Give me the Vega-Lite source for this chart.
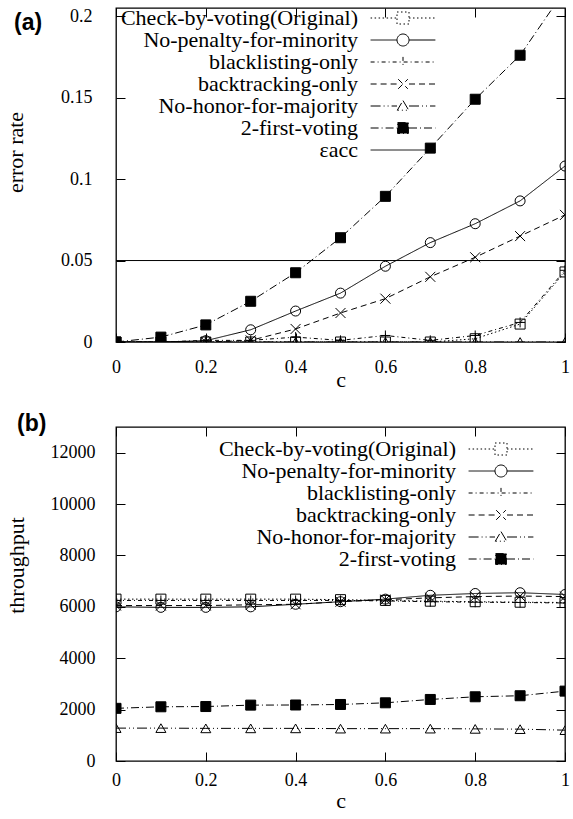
{
  "$schema": "https://vega.github.io/schema/vega-lite/v6.json",
  "background": "white",
  "padding": {"left": 3, "top": 6, "right": 5, "bottom": 4},
  "datasets": {
    "err": [
      {"s": "Check-by-voting(Original)", "c": 0, "v": 0}, {"s": "Check-by-voting(Original)", "c": 0.1, "v": 0}, {"s": "Check-by-voting(Original)", "c": 0.2, "v": 0}, {"s": "Check-by-voting(Original)", "c": 0.3, "v": 0}, {"s": "Check-by-voting(Original)", "c": 0.4, "v": 0}, {"s": "Check-by-voting(Original)", "c": 0.5, "v": 0}, {"s": "Check-by-voting(Original)", "c": 0.6, "v": 0}, {"s": "Check-by-voting(Original)", "c": 0.7, "v": 0}, {"s": "Check-by-voting(Original)", "c": 0.8, "v": 0.002}, {"s": "Check-by-voting(Original)", "c": 0.9, "v": 0.011}, {"s": "Check-by-voting(Original)", "c": 1, "v": 0.043},
      {"s": "No-penalty-for-minority", "c": 0, "v": 0}, {"s": "No-penalty-for-minority", "c": 0.1, "v": 0}, {"s": "No-penalty-for-minority", "c": 0.2, "v": 0.0008}, {"s": "No-penalty-for-minority", "c": 0.3, "v": 0.0075}, {"s": "No-penalty-for-minority", "c": 0.4, "v": 0.019}, {"s": "No-penalty-for-minority", "c": 0.5, "v": 0.030}, {"s": "No-penalty-for-minority", "c": 0.6, "v": 0.0465}, {"s": "No-penalty-for-minority", "c": 0.7, "v": 0.061}, {"s": "No-penalty-for-minority", "c": 0.8, "v": 0.0726}, {"s": "No-penalty-for-minority", "c": 0.9, "v": 0.0866}, {"s": "No-penalty-for-minority", "c": 1, "v": 0.108},
      {"s": "blacklisting-only", "c": 0, "v": 0}, {"s": "blacklisting-only", "c": 0.1, "v": 0}, {"s": "blacklisting-only", "c": 0.2, "v": 0.001}, {"s": "blacklisting-only", "c": 0.3, "v": 0.001}, {"s": "blacklisting-only", "c": 0.4, "v": 0.003}, {"s": "blacklisting-only", "c": 0.5, "v": 0.001}, {"s": "blacklisting-only", "c": 0.6, "v": 0.004}, {"s": "blacklisting-only", "c": 0.7, "v": 0.001}, {"s": "blacklisting-only", "c": 0.8, "v": 0.004}, {"s": "blacklisting-only", "c": 0.9, "v": 0.012}, {"s": "blacklisting-only", "c": 1, "v": 0.044},
      {"s": "backtracking-only", "c": 0, "v": 0}, {"s": "backtracking-only", "c": 0.1, "v": 0}, {"s": "backtracking-only", "c": 0.2, "v": 0}, {"s": "backtracking-only", "c": 0.3, "v": 0.001}, {"s": "backtracking-only", "c": 0.4, "v": 0.008}, {"s": "backtracking-only", "c": 0.5, "v": 0.0178}, {"s": "backtracking-only", "c": 0.6, "v": 0.0266}, {"s": "backtracking-only", "c": 0.7, "v": 0.040}, {"s": "backtracking-only", "c": 0.8, "v": 0.052}, {"s": "backtracking-only", "c": 0.9, "v": 0.065}, {"s": "backtracking-only", "c": 1, "v": 0.078},
      {"s": "No-honor-for-majority", "c": 0, "v": 0}, {"s": "No-honor-for-majority", "c": 0.1, "v": 0}, {"s": "No-honor-for-majority", "c": 0.2, "v": 0}, {"s": "No-honor-for-majority", "c": 0.3, "v": 0}, {"s": "No-honor-for-majority", "c": 0.4, "v": 0}, {"s": "No-honor-for-majority", "c": 0.5, "v": 0}, {"s": "No-honor-for-majority", "c": 0.6, "v": 0}, {"s": "No-honor-for-majority", "c": 0.7, "v": 0}, {"s": "No-honor-for-majority", "c": 0.8, "v": 0}, {"s": "No-honor-for-majority", "c": 0.9, "v": 0}, {"s": "No-honor-for-majority", "c": 1, "v": 0},
      {"s": "2-first-voting", "c": 0, "v": 0}, {"s": "2-first-voting", "c": 0.1, "v": 0.003}, {"s": "2-first-voting", "c": 0.2, "v": 0.0105}, {"s": "2-first-voting", "c": 0.3, "v": 0.025}, {"s": "2-first-voting", "c": 0.4, "v": 0.0425}, {"s": "2-first-voting", "c": 0.5, "v": 0.064}, {"s": "2-first-voting", "c": 0.6, "v": 0.0894}, {"s": "2-first-voting", "c": 0.7, "v": 0.119}, {"s": "2-first-voting", "c": 0.8, "v": 0.149}, {"s": "2-first-voting", "c": 0.9, "v": 0.176}, {"s": "2-first-voting", "c": 1, "v": 0.216},
      {"s": "εacc", "c": 0, "v": 0.05}, {"s": "εacc", "c": 1, "v": 0.05}
    ],
    "thr": [
      {"s": "Check-by-voting(Original)", "c": 0, "v": 6300}, {"s": "Check-by-voting(Original)", "c": 0.1, "v": 6300}, {"s": "Check-by-voting(Original)", "c": 0.2, "v": 6300}, {"s": "Check-by-voting(Original)", "c": 0.3, "v": 6300}, {"s": "Check-by-voting(Original)", "c": 0.4, "v": 6300}, {"s": "Check-by-voting(Original)", "c": 0.5, "v": 6280}, {"s": "Check-by-voting(Original)", "c": 0.6, "v": 6250}, {"s": "Check-by-voting(Original)", "c": 0.7, "v": 6220}, {"s": "Check-by-voting(Original)", "c": 0.8, "v": 6200}, {"s": "Check-by-voting(Original)", "c": 0.9, "v": 6180}, {"s": "Check-by-voting(Original)", "c": 1, "v": 6170},
      {"s": "No-penalty-for-minority", "c": 0, "v": 6000}, {"s": "No-penalty-for-minority", "c": 0.1, "v": 5980}, {"s": "No-penalty-for-minority", "c": 0.2, "v": 5980}, {"s": "No-penalty-for-minority", "c": 0.3, "v": 6000}, {"s": "No-penalty-for-minority", "c": 0.4, "v": 6100}, {"s": "No-penalty-for-minority", "c": 0.5, "v": 6200}, {"s": "No-penalty-for-minority", "c": 0.6, "v": 6300}, {"s": "No-penalty-for-minority", "c": 0.7, "v": 6450}, {"s": "No-penalty-for-minority", "c": 0.8, "v": 6520}, {"s": "No-penalty-for-minority", "c": 0.9, "v": 6550}, {"s": "No-penalty-for-minority", "c": 1, "v": 6480},
      {"s": "blacklisting-only", "c": 0, "v": 6250}, {"s": "blacklisting-only", "c": 0.1, "v": 6250}, {"s": "blacklisting-only", "c": 0.2, "v": 6250}, {"s": "blacklisting-only", "c": 0.3, "v": 6250}, {"s": "blacklisting-only", "c": 0.4, "v": 6250}, {"s": "blacklisting-only", "c": 0.5, "v": 6250}, {"s": "blacklisting-only", "c": 0.6, "v": 6230}, {"s": "blacklisting-only", "c": 0.7, "v": 6200}, {"s": "blacklisting-only", "c": 0.8, "v": 6180}, {"s": "blacklisting-only", "c": 0.9, "v": 6170}, {"s": "blacklisting-only", "c": 1, "v": 6150},
      {"s": "backtracking-only", "c": 0, "v": 6050}, {"s": "backtracking-only", "c": 0.1, "v": 6050}, {"s": "backtracking-only", "c": 0.2, "v": 6050}, {"s": "backtracking-only", "c": 0.3, "v": 6080}, {"s": "backtracking-only", "c": 0.4, "v": 6100}, {"s": "backtracking-only", "c": 0.5, "v": 6200}, {"s": "backtracking-only", "c": 0.6, "v": 6280}, {"s": "backtracking-only", "c": 0.7, "v": 6350}, {"s": "backtracking-only", "c": 0.8, "v": 6400}, {"s": "backtracking-only", "c": 0.9, "v": 6420}, {"s": "backtracking-only", "c": 1, "v": 6400},
      {"s": "No-honor-for-majority", "c": 0, "v": 1280}, {"s": "No-honor-for-majority", "c": 0.1, "v": 1280}, {"s": "No-honor-for-majority", "c": 0.2, "v": 1270}, {"s": "No-honor-for-majority", "c": 0.3, "v": 1270}, {"s": "No-honor-for-majority", "c": 0.4, "v": 1270}, {"s": "No-honor-for-majority", "c": 0.5, "v": 1260}, {"s": "No-honor-for-majority", "c": 0.6, "v": 1260}, {"s": "No-honor-for-majority", "c": 0.7, "v": 1260}, {"s": "No-honor-for-majority", "c": 0.8, "v": 1250}, {"s": "No-honor-for-majority", "c": 0.9, "v": 1240}, {"s": "No-honor-for-majority", "c": 1, "v": 1200},
      {"s": "2-first-voting", "c": 0, "v": 2050}, {"s": "2-first-voting", "c": 0.1, "v": 2110}, {"s": "2-first-voting", "c": 0.2, "v": 2120}, {"s": "2-first-voting", "c": 0.3, "v": 2175}, {"s": "2-first-voting", "c": 0.4, "v": 2180}, {"s": "2-first-voting", "c": 0.5, "v": 2200}, {"s": "2-first-voting", "c": 0.6, "v": 2265}, {"s": "2-first-voting", "c": 0.7, "v": 2395}, {"s": "2-first-voting", "c": 0.8, "v": 2500}, {"s": "2-first-voting", "c": 0.9, "v": 2540}, {"s": "2-first-voting", "c": 1, "v": 2720}
    ]
  },
  "spacing": 20,
  "resolve": {"scale": {"shape": "independent", "strokeDash": "independent"}, "legend": {"strokeDash": "independent", "shape": "independent"}},
  "vconcat": [
    {
      "width": 449,
      "height": 334,
      "title": {"text": "(a)", "anchor": "start", "frame": "group", "font": "Liberation Sans", "fontSize": 23, "fontWeight": "bold", "color": "black", "baseline": "alphabetic", "offset": -46, "dx": -102},
      "data": {"name": "err"},
      "layer": [
        {
          "mark": {"type": "line", "clip": true, "stroke": "black", "strokeWidth": 1},
          "encoding": {
            "x": {"field": "c", "type": "quantitative", "scale": {"domain": [0, 1], "nice": false}, "axis": {"orient": "bottom", "values": [0, 0.2, 0.4, 0.6, 0.8, 1], "format": "~g", "title": "c", "labelPadding": 25, "titleY": 44, "titleBaseline": "alphabetic"}},
            "y": {"field": "v", "type": "quantitative", "scale": {"domain": [0, 0.205], "nice": false, "zero": false}, "axis": {"orient": "left", "values": [0, 0.05, 0.1, 0.15, 0.2], "format": "~g", "title": "error rate", "labelPadding": 33, "titlePadding": 33, "titleY": 144}},
            "strokeDash": {"field": "s", "type": "nominal",
              "scale": {"domain": ["Check-by-voting(Original)", "No-penalty-for-minority", "blacklisting-only", "backtracking-only", "No-honor-for-majority", "2-first-voting", "εacc"], "range": [[1.5, 2.5], [1, 0], [4, 3, 1, 3], [6, 4], [10, 3, 1, 3, 1, 3], [8, 3, 1, 3], [1, 0]]},
              "legend": {"orient": "none", "legendX": 276, "legendY": -1, "title": null, "padding": 0, "rowPadding": 0, "labelAlign": "right", "labelOffset": -56, "symbolOffset": 0, "symbolSize": 144, "labelLimit": 500,
                "encoding": {"symbols": {
                  "size": {"value": 144},
                  "stroke": {"value": "black"},
                  "strokeWidth": {"value": 1},
                  "opacity": {"value": 1},
                  "fill": {"value": {"expr": "datum.value === '2-first-voting' ? 'black' : 'transparent'"}},
                  "shape": {"value": {"expr": "datum.value === 'Check-by-voting(Original)' ? 'M-5.4,0H-1M1,0H5.4M-1,-1H1V1H-1Z' : datum.value === 'No-penalty-for-minority' ? 'M-5.4,0H-1M1,0H5.4M-1,0A1,1,0,1,0,1,0A1,1,0,1,0,-1,0Z' : datum.value === 'blacklisting-only' ? 'M-5.4,0H5.4M0,-0.85V0.85' : datum.value === 'backtracking-only' ? 'M-5.4,0H-1M1,0H5.4M-0.8,-0.8L0.8,0.8M-0.8,0.8L0.8,-0.8' : datum.value === 'No-honor-for-majority' ? 'M-5.4,0H-1M1,0H5.4M0,-0.9L0.95,0.7H-0.95Z' : datum.value === '2-first-voting' ? 'M-5.4,0H-1M1,0H5.4M-0.9,-0.9H0.9V0.9H-0.9Z' : 'M-5.4,0H5.4'"}}
                }}
              }
            }
          }
        },
        {
          "transform": [{"filter": "datum.s !== 'εacc'"}],
          "mark": {"type": "point", "clip": true, "filled": true, "opacity": 1, "size": 100, "strokeWidth": 1},
          "encoding": {
            "x": {"field": "c", "type": "quantitative", "axis": {"orient": "top", "values": [0, 0.2, 0.4, 0.6, 0.8, 1], "labels": false, "title": null}},
            "y": {"field": "v", "type": "quantitative", "axis": {"orient": "right", "values": [0, 0.05, 0.1, 0.15, 0.2], "labels": false, "title": null}},
            "shape": {"field": "s", "type": "nominal", "legend": null,
              "scale": {"domain": ["2-first-voting", "No-honor-for-majority", "backtracking-only", "blacklisting-only", "No-penalty-for-minority", "Check-by-voting(Original)"], "range": ["square", "triangle-up", "M-1,-1L1,1M-1,1L1,-1", "M-1,0H1M0,-1V1", "circle", "square"]}
            },
            "fill": {"condition": {"test": "datum.s === '2-first-voting'", "value": "black"}, "value": "transparent"},
            "stroke": {"value": "black"}
          }
        }
      ],
      "resolve": {"axis": {"x": "independent", "y": "independent"}}
    },
    {
      "width": 449,
      "height": 334,
      "title": {"text": "(b)", "anchor": "start", "frame": "group", "font": "Liberation Sans", "fontSize": 23, "fontWeight": "bold", "color": "black", "baseline": "alphabetic", "offset": -27, "dx": -99},
      "data": {"name": "thr"},
      "layer": [
        {
          "mark": {"type": "line", "clip": true, "stroke": "black", "strokeWidth": 1},
          "encoding": {
            "x": {"field": "c", "type": "quantitative", "scale": {"domain": [0, 1], "nice": false}, "axis": {"orient": "bottom", "values": [0, 0.2, 0.4, 0.6, 0.8, 1], "format": "~g", "title": "c", "labelPadding": 19, "titleY": 46, "titleBaseline": "alphabetic"}},
            "y": {"field": "v", "type": "quantitative", "scale": {"domain": [0, 13000], "nice": false, "zero": false}, "axis": {"orient": "left", "values": [0, 2000, 4000, 6000, 8000, 10000, 12000], "format": "d", "title": "throughput", "labelPadding": 30, "titlePadding": 22, "titleY": 138}},
            "strokeDash": {"field": "s", "type": "nominal",
              "scale": {"domain": ["Check-by-voting(Original)", "No-penalty-for-minority", "blacklisting-only", "backtracking-only", "No-honor-for-majority", "2-first-voting"], "range": [[1.5, 2.5], [1, 0], [4, 3, 1, 3], [6, 4], [10, 3, 1, 3, 1, 3], [8, 3, 1, 3]]},
              "legend": {"orient": "none", "legendX": 374, "legendY": 11, "title": null, "padding": 0, "rowPadding": 0, "labelAlign": "right", "labelOffset": -56, "symbolOffset": 0, "symbolSize": 144, "labelLimit": 500,
                "encoding": {"symbols": {
                  "size": {"value": 144},
                  "stroke": {"value": "black"},
                  "strokeWidth": {"value": 1},
                  "opacity": {"value": 1},
                  "fill": {"value": {"expr": "datum.value === '2-first-voting' ? 'black' : 'transparent'"}},
                  "shape": {"value": {"expr": "datum.value === 'Check-by-voting(Original)' ? 'M-5.4,0H-1M1,0H5.4M-1,-1H1V1H-1Z' : datum.value === 'No-penalty-for-minority' ? 'M-5.4,0H-1M1,0H5.4M-1,0A1,1,0,1,0,1,0A1,1,0,1,0,-1,0Z' : datum.value === 'blacklisting-only' ? 'M-5.4,0H5.4M0,-0.85V0.85' : datum.value === 'backtracking-only' ? 'M-5.4,0H-1M1,0H5.4M-0.8,-0.8L0.8,0.8M-0.8,0.8L0.8,-0.8' : datum.value === 'No-honor-for-majority' ? 'M-5.4,0H-1M1,0H5.4M0,-0.9L0.95,0.7H-0.95Z' : 'M-5.4,0H-1M1,0H5.4M-0.9,-0.9H0.9V0.9H-0.9Z'"}}
                }}
              }
            }
          }
        },
        {
          "mark": {"type": "point", "clip": true, "filled": true, "opacity": 1, "size": 100, "strokeWidth": 1},
          "encoding": {
            "x": {"field": "c", "type": "quantitative", "axis": {"orient": "top", "values": [0, 0.2, 0.4, 0.6, 0.8, 1], "labels": false, "title": null}},
            "y": {"field": "v", "type": "quantitative", "axis": {"orient": "right", "values": [0, 2000, 4000, 6000, 8000, 10000, 12000], "labels": false, "title": null}},
            "shape": {"field": "s", "type": "nominal", "legend": null,
              "scale": {"domain": ["2-first-voting", "No-honor-for-majority", "backtracking-only", "blacklisting-only", "No-penalty-for-minority", "Check-by-voting(Original)"], "range": ["square", "triangle-up", "M-1,-1L1,1M-1,1L1,-1", "M-1,0H1M0,-1V1", "circle", "square"]}
            },
            "fill": {"condition": {"test": "datum.s === '2-first-voting'", "value": "black"}, "value": "transparent"},
            "stroke": {"value": "black"}
          }
        }
      ],
      "resolve": {"axis": {"x": "independent", "y": "independent"}}
    }
  ],
  "config": {
    "view": {"stroke": "black", "strokeWidth": 1.3},
    "axis": {"domain": false, "grid": false, "ticks": true, "tickSize": -9, "tickColor": "black", "tickWidth": 1, "labelFont": "Liberation Serif", "labelFontSize": 18, "labelColor": "black", "titleFont": "Liberation Serif", "titleFontSize": 22, "titleFontWeight": "normal", "titleColor": "black", "labelFlush": false, "labelOverlap": false},
    "legend": {"labelFont": "Liberation Serif", "labelFontSize": 22, "labelColor": "black"}
  }
}
